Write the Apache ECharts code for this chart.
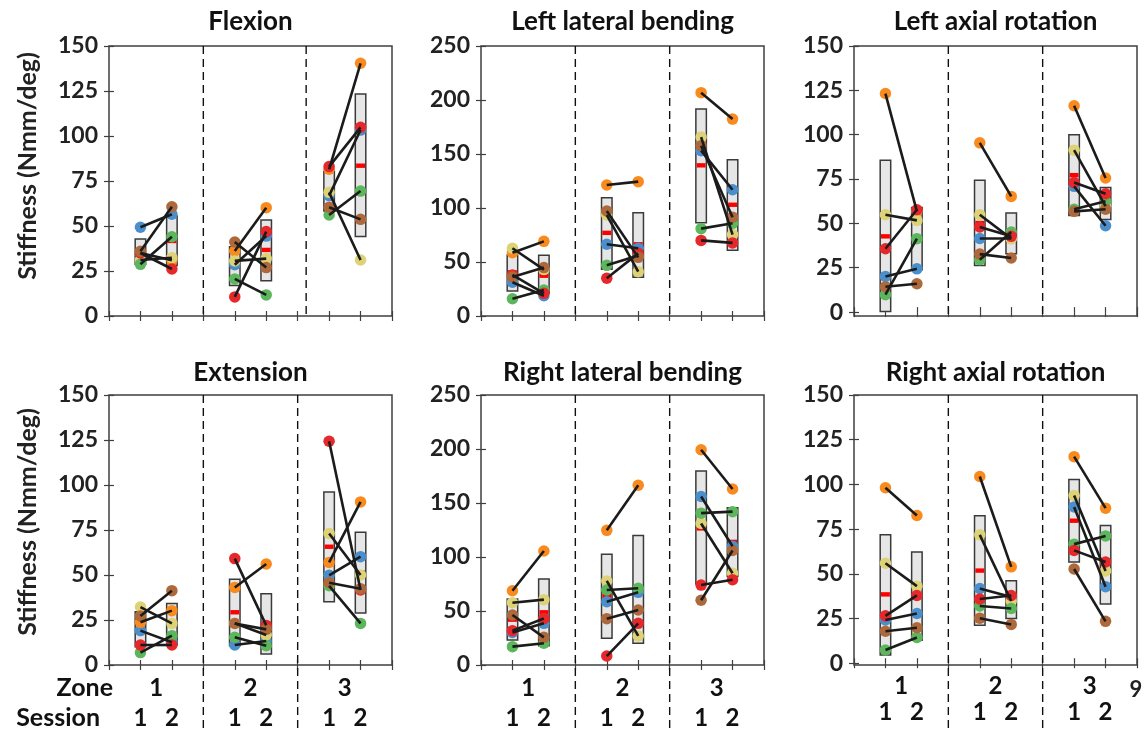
<!DOCTYPE html>
<html>
<head>
<meta charset="utf-8">
<script src="https://cdn.jsdelivr.net/npm/echarts@6/dist/echarts.min.js"></script>
<style>
  html, body { margin: 0; padding: 0; background: #fff; }
  #chart { width: 1144px; height: 733px; }
</style>
</head>
<body>
<div id="chart"></div>
<script>
// subjects: blue, orange, yellow, green, red, brown
const subjectColors = ['#4a8fcb', '#f98a1d', '#ddd275', '#5cb65b', '#e6282b', '#ad693b'];
// groups: zone1 s1, zone1 s2, zone2 s1, zone2 s2, zone3 s1, zone3 s2
const groupX = [1, 2, 4, 5, 7, 8];
const sessionLabels = ['1', '2', '1', '2', '1', '2'];
const zoneX = [1.5, 4.5, 7.5];
const zoneLabels = ['1', '2', '3'];
const ticks150 = [0, 25, 50, 75, 100, 125, 150];
const ticks250 = [0, 50, 100, 150, 200, 250];

const flexionPts = [
  [49.3, 56.5, 28.5, 44.4, 66.9, 103.3],
  [35.0, 31.0, 36.1, 60.2, 81.5, 140.4],
  [31.1, 32.4, 30.6, 31.9, 68.7, 31.1],
  [28.7, 44.0, 20.6, 11.7, 56.1, 69.4],
  [35.0, 26.1, 10.6, 46.9, 83.0, 104.8],
  [36.0, 60.7, 41.1, 26.9, 60.4, 53.7]
];
// [low, high, mean]
const flexionBox = [[28.7, 42.8, 35.8], [28.0, 55.5, 41.7], [16.9, 38.5, 27.5], [19.6, 53.3, 36.7], [58.3, 80.4, 69.4], [44.1, 123.3, 83.5]];

const leftLatPts = [
  [31.2, 18.8, 66.4, 62.7, 153.1, 116.9],
  [58.6, 69.1, 121.3, 124.4, 206.8, 182.3],
  [62.7, 43.0, 93.5, 41.0, 165.7, 75.4],
  [16.0, 24.0, 46.9, 56.0, 80.9, 85.8],
  [38.0, 21.0, 34.9, 58.0, 70.0, 67.7],
  [36.1, 44.8, 97.2, 54.3, 157.7, 91.5]
];
const leftLatBox = [[23.1, 56.5, 40.4], [21.0, 56.2, 37.3], [43.2, 109.6, 77.0], [35.8, 95.7, 66.4], [86.4, 191.7, 139.5], [60.8, 144.6, 103.0]];

const leftRotPts = [
  [20.1, 24.4, 41.5, 41.5, 70.9, 48.7],
  [123.2, 56.8, 95.4, 65.2, 116.3, 75.6],
  [54.9, 51.7, 54.9, 41.4, 91.3, 59.7],
  [9.8, 41.4, 29.5, 45.1, 58.0, 62.5],
  [35.7, 57.7, 48.0, 42.7, 73.0, 66.7],
  [14.3, 16.0, 32.7, 30.5, 56.8, 58.0]
];
const leftRotBox = [[0.3, 85.6, 42.7], [23.9, 59.0, 41.3], [26.3, 74.3, 50.2], [32.9, 55.9, 44.4], [54.5, 100.0, 77.2], [52.2, 70.2, 61.5]];

const extensionPts = [
  [19.1, 12.6, 11.1, 13.3, 49.8, 60.2],
  [23.7, 30.2, 43.1, 56.1, 57.0, 90.6],
  [32.2, 23.1, 23.2, 16.7, 73.1, 50.0],
  [6.9, 16.3, 15.4, 10.7, 44.0, 23.1],
  [11.1, 11.1, 59.1, 22.0, 124.3, 41.7],
  [27.2, 41.3, 23.1, 19.8, 45.7, 42.4]
];
const extensionBox = [[10.2, 29.6, 20.0], [11.1, 34.1, 22.6], [10.7, 47.6, 29.3], [6.1, 39.6, 22.9], [35.2, 96.1, 65.7], [28.9, 73.7, 51.3]];

const rightLatPts = [
  [30.2, 38.6, 58.6, 67.3, 156.0, 110.0],
  [68.8, 105.6, 124.7, 166.4, 199.3, 163.0],
  [57.7, 60.5, 77.8, 26.9, 131.0, 85.0],
  [17.0, 20.1, 69.4, 71.0, 140.6, 142.0],
  [31.8, 43.0, 8.3, 38.6, 74.0, 79.0],
  [46.3, 25.6, 42.9, 50.9, 60.0, 106.0]
];
const rightLatBox = [[23.1, 61.1, 42.0], [17.9, 79.6, 48.8], [24.7, 102.5, 63.9], [20.1, 120.0, 70.0], [75.0, 179.6, 126.5], [82.0, 145.5, 114.0]];

const rightRotPts = [
  [24.2, 27.8, 41.8, 37.0, 87.4, 42.8],
  [98.1, 82.6, 104.4, 53.9, 115.5, 86.7],
  [55.9, 43.1, 71.8, 34.8, 93.8, 51.6],
  [7.4, 14.4, 32.0, 30.6, 66.6, 71.2],
  [26.5, 37.9, 35.9, 37.9, 63.1, 56.6],
  [17.9, 19.8, 25.2, 21.7, 52.7, 23.4]
];
const rightRotBox = [[4.6, 71.8, 38.5], [12.9, 62.2, 37.6], [21.3, 82.4, 51.8], [25.0, 46.1, 35.8], [56.6, 102.8, 79.7], [33.1, 77.0, 55.4]];

const panels = [
  {title: 'Flexion', pts: flexionPts, box: flexionBox, yMin: 0, yMax: 150, ticks: ticks150, dividers: [3, 6.27]},
  {title: 'Left lateral bending', pts: leftLatPts, box: leftLatBox, yMin: 0, yMax: 250, ticks: ticks250, dividers: [3, 6]},
  {title: 'Left axial rotation', pts: leftRotPts, box: leftRotBox, yMin: -2.2, yMax: 150, ticks: ticks150, dividers: [3, 6]},
  {title: 'Extension', pts: extensionPts, box: extensionBox, yMin: 0, yMax: 150, ticks: ticks150, dividers: [3, 6]},
  {title: 'Right lateral bending', pts: rightLatPts, box: rightLatBox, yMin: 0, yMax: 250, ticks: ticks250, dividers: [3, 6]},
  {title: 'Right axial rotation', pts: rightRotPts, box: rightRotBox, yMin: -1, yMax: 150, ticks: ticks150, dividers: [3, 6]}
];

const FONT = 'Lato, "Open Sans", sans-serif';
const colLeft = [109, 481, 854];
const rowTop = [46, 395];
const gridW = 283, gridH = 270;
const frameColor = '#3f3f3f';

const grids = [], xAxes = [], yAxes = [], series = [], graphics = [];

panels.forEach((p, k) => {
  const col = k % 3, row = Math.floor(k / 3);
  grids.push({left: colLeft[col], top: rowTop[row], width: gridW, height: gridH,
    show: true, borderColor: frameColor, borderWidth: 1.5, backgroundColor: 'transparent'});

  const tick = {inside: true, length: 5, lineStyle: {color: frameColor, width: 1.2}};
  xAxes.push({
    gridIndex: k, type: 'value', min: 0, max: 9, interval: 1,
    axisLine: {show: false}, axisTick: tick, splitLine: {show: false},
    axisLabel: row === 1 ? {
      margin: col === 2 ? 35 : 41, fontFamily: FONT, fontSize: 24, fontWeight: 'bold', color: '#111',
      formatter: v => { const i = groupX.indexOf(v); return i >= 0 ? sessionLabels[i] : ''; }
    } : {show: false}
  });
  xAxes.push({
    gridIndex: k, type: 'value', position: 'top', min: 0, max: 9, interval: 1,
    axisLine: {show: false}, axisTick: tick, splitLine: {show: false}, axisLabel: {show: false}
  });
  yAxes.push({
    gridIndex: k, type: 'value', min: p.yMin, max: p.yMax,
    axisLine: {show: false}, splitLine: {show: false},
    axisTick: Object.assign({customValues: p.ticks}, tick),
    axisLabel: {customValues: p.ticks, margin: 11, fontFamily: FONT, fontSize: 23, fontWeight: 'bold', color: '#222'}
  });
  yAxes.push({
    gridIndex: k, type: 'value', position: 'right', min: p.yMin, max: p.yMax,
    axisLine: {show: false}, splitLine: {show: false},
    axisTick: Object.assign({customValues: p.ticks}, tick), axisLabel: {show: false}
  });

  const ax = {xAxisIndex: 2 * k, yAxisIndex: 2 * k};

  // dashed zone dividers
  series.push(Object.assign({
    type: 'custom', clip: false, silent: true, z: 1,
    data: p.dividers.map(x => [x]),
    renderItem: (params, api) => {
      const a = api.coord([api.value(0), p.yMax]);
      const b = api.coord([api.value(0), p.yMin]);
      return {type: 'line', shape: {x1: a[0], y1: a[1], x2: a[0], y2: row === 1 ? 733 : b[1]},
        style: {stroke: '#111', lineWidth: 1.4, lineDash: [8, 5]}};
    }
  }, ax));

  // mean +/- SD boxes with mean bar
  series.push(Object.assign({
    type: 'custom', silent: true, z: 2,
    data: p.box.map((b, i) => [groupX[i], b[0], b[1], b[2]]),
    renderItem: (params, api) => {
      const x = api.value(0);
      const hi = api.coord([x, api.value(2)]);
      const lo = api.coord([x, api.value(1)]);
      const m = api.coord([x, api.value(3)]);
      const w = 10.5;
      return {type: 'group', children: [
        {type: 'rect', shape: {x: hi[0] - w / 2, y: hi[1], width: w, height: lo[1] - hi[1]},
          style: {fill: '#e6e6e6', stroke: '#3a3a3a', lineWidth: 1.5}},
        {type: 'rect', shape: {x: m[0] - w / 2 + 0.8, y: m[1] - 2.2, width: w - 1.6, height: 4.4},
          style: {fill: '#ff0000'}}
      ]};
    }
  }, ax));

  // subject points
  p.pts.forEach((vals, s) => {
    series.push(Object.assign({
      type: 'scatter', z: 3, symbolSize: 11.5, silent: true,
      itemStyle: {color: subjectColors[s], opacity: 1},
      data: vals.map((v, i) => [groupX[i], v])
    }, ax));
  });

  // session 1 -> session 2 connecting lines
  const segs = [];
  p.pts.forEach(vals => {
    for (let z = 0; z < 3; z++) {
      segs.push([groupX[2 * z], vals[2 * z], groupX[2 * z + 1], vals[2 * z + 1]]);
    }
  });
  series.push(Object.assign({
    type: 'custom', silent: true, z: 4,
    data: segs,
    renderItem: (params, api) => {
      const a = api.coord([api.value(0), api.value(1)]);
      const b = api.coord([api.value(2), api.value(3)]);
      return {type: 'line', shape: {x1: a[0], y1: a[1], x2: b[0], y2: b[1]},
        style: {stroke: '#1b1b1b', lineWidth: 2.6}};
    }
  }, ax));

  // zone numbers under the bottom row
  if (row === 1) {
    series.push(Object.assign({
      type: 'custom', clip: false, silent: true, z: 5,
      data: zoneX.map((x, i) => [x, i]),
      renderItem: (params, api) => {
        const c = api.coord([api.value(0), p.yMin]);
        return {type: 'text', x: c[0], y: c[1] + (col === 2 ? 21 : 23),
          style: {text: zoneLabels[api.value(1)], font: 'bold 24px ' + FONT, fill: '#111',
            textAlign: 'center', textVerticalAlign: 'middle'}};
      }
    }, ax));
  }

  graphics.push({type: 'text', x: colLeft[col] + gridW / 2, y: row === 0 ? 22 : 373,
    style: {text: p.title, font: 'bold 26px ' + FONT, fill: '#111', textAlign: 'center', textVerticalAlign: 'middle'}});
});

graphics.push(
  {type: 'text', x: 28, y: 166, rotation: Math.PI / 2,
    style: {text: 'Stiffness (Nmm/deg)', font: 'bold 25px ' + FONT, fill: '#222', textAlign: 'center', textVerticalAlign: 'middle'}},
  {type: 'text', x: 28, y: 522, rotation: Math.PI / 2,
    style: {text: 'Stiffness (Nmm/deg)', font: 'bold 25px ' + FONT, fill: '#222', textAlign: 'center', textVerticalAlign: 'middle'}},
  {type: 'text', x: 113, y: 688,
    style: {text: 'Zone', font: 'bold 25px ' + FONT, fill: '#111', textAlign: 'right', textVerticalAlign: 'middle'}},
  {type: 'text', x: 100, y: 718,
    style: {text: 'Session', font: 'bold 25px ' + FONT, fill: '#111', textAlign: 'right', textVerticalAlign: 'middle'}},
  {type: 'text', x: 1136, y: 690,
    style: {text: '9', font: 'bold 22px ' + FONT, fill: '#222', textAlign: 'center', textVerticalAlign: 'middle'}}
);

const chart = echarts.init(document.getElementById('chart'));
chart.setOption({
  animation: false,
  backgroundColor: '#fff',
  grid: grids,
  xAxis: xAxes,
  yAxis: yAxes,
  series: series,
  graphic: graphics
});
</script>
</body>
</html>
